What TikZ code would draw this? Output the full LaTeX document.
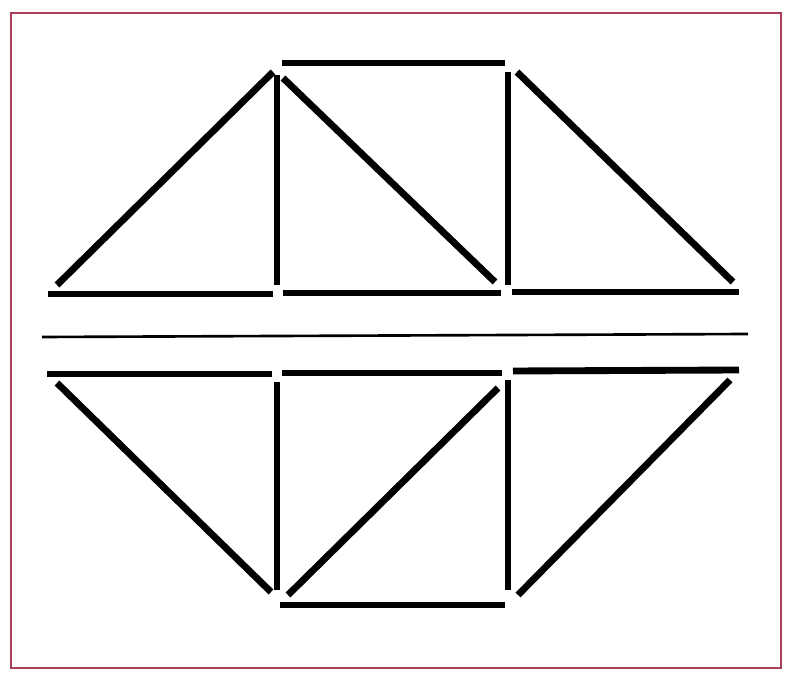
\documentclass[tikz,border=0pt]{standalone}
\usetikzlibrary{positioning}
\definecolor{framered}{HTML}{A8405A}

\begin{document}
\begin{tikzpicture}[
    x=0.01cm, y=-0.01cm,
    stick/.style={line width=1.95pt, black, line cap=butt},
    divider/.style={line width=0.75pt, black},
    frame/.style={draw=framered, line width=0.85pt}
]
\useasboundingbox (0,0) rectangle (787,679);
\fill[white] (0,0) rectangle (787,679);
\draw[frame] (11,13) rectangle (781,668);

% --- Upper figure ---
\draw[stick] (282,63) -- (505,63);
\draw[stick] (57,285) -- (273,72);
\draw[stick] (277,75) -- (277,285);
\draw[stick] (283,78) -- (495,282);
\draw[stick] (508,72) -- (508,285);
\draw[stick] (517,72) -- (733,282);
\draw[stick] (48,294) -- (273,294);
\draw[stick] (283,293) -- (501,293);
\draw[stick] (512,292) -- (739,292);

% --- Divider ---
\draw[divider] (42,337) -- (748,334);

% --- Lower figure ---
\draw[stick] (47,374) -- (272,374);
\draw[stick] (282,373) -- (502,373);
\draw[stick] (513,371) -- (739,370);
\draw[stick] (57,383) -- (271,592);
\draw[stick] (277,382) -- (277,590);
\draw[stick] (288,595) -- (498,388);
\draw[stick] (508,380) -- (508,590);
\draw[stick] (518,595) -- (730,380);
\draw[stick] (280,605) -- (505,605);
\end{tikzpicture}
\end{document}
